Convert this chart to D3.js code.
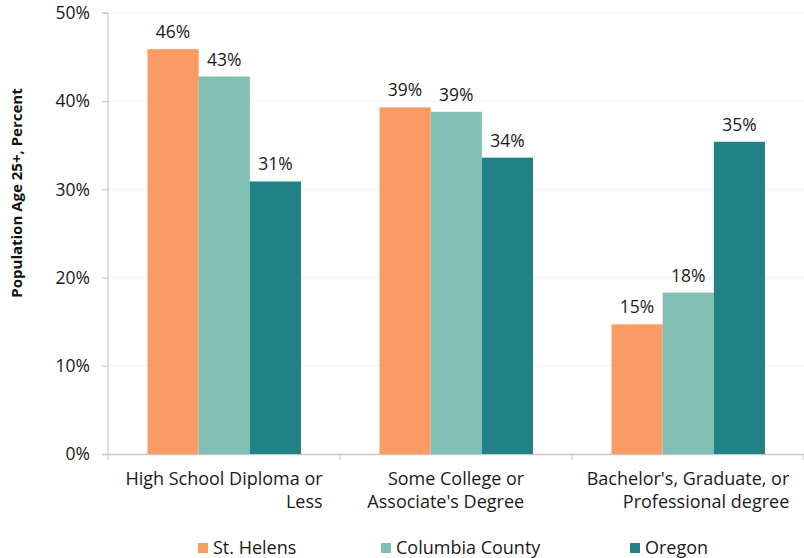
<!DOCTYPE html>
<html><head><meta charset="utf-8">
<script src="https://cdn.jsdelivr.net/npm/d3@7"></script>
<style>body{margin:0;background:#fff}svg{display:block}text{font-family:"Open Sans","Noto Sans",sans-serif}</style>
</head><body><svg id="c" width="804" height="558"></svg>
<script>
const categories = [["High School Diploma or","Less"],["Some College or","Associate's Degree"],["Bachelor's, Graduate, or","Professional degree"]];
const seriesNames = ["St. Helens","Columbia County","Oregon"];
const stHelens = [45.9, 39.3, 14.7];
const columbia = [42.8, 38.8, 18.3];
const oregon = [30.9, 33.6, 35.4];
const colors = ["#F99B62","#81BFB5","#218285"];
const yTicks = [0,10,20,30,40,50];
const series = [stHelens, columbia, oregon];

const svg = d3.select("#c");
const m = {l:108, r:804, t:13, b:454};
const x0 = d3.scaleBand().domain(d3.range(3)).range([m.l, m.r]).paddingInner(0).paddingOuter(0);
const x1 = d3.scaleBand().domain(d3.range(3)).range([39.5, x0.bandwidth()-39]);
const y = d3.scaleLinear().domain([0,50]).range([m.b, m.t]);

// gridlines
svg.append("g").selectAll("line").data(yTicks.filter(d=>d>0)).join("line")
  .attr("x1", m.l).attr("x2", m.r).attr("y1", d=>y(d)).attr("y2", d=>y(d))
  .attr("stroke","#efefef").attr("stroke-width",1);

// y axis
const ya = svg.append("g").attr("transform",`translate(${m.l},0)`)
  .call(d3.axisLeft(y).tickValues(yTicks).tickFormat(d=>d+"%").tickSize(6).tickPadding(12));
ya.select(".domain").attr("stroke","#bfbfbf").attr("d",`M-6,${m.t}H0V${m.b}`);
ya.selectAll(".tick line").attr("stroke","#bfbfbf");
ya.selectAll(".tick text").attr("font-size",17.5).attr("fill","#1a1a1a").attr("font-family","'Open Sans',sans-serif");

// x axis line and ticks
svg.append("line").attr("x1",m.l-6).attr("x2",m.r).attr("y1",m.b+0.5).attr("y2",m.b+0.5).attr("stroke","#c8c8c8").attr("stroke-width",1.5);
svg.append("g").selectAll("line").data([0,1,2,3]).join("line")
  .attr("x1", d=> d<3 ? x0(d) : m.r-1).attr("x2", d=> d<3 ? x0(d) : m.r-1)
  .attr("y1", m.b).attr("y2", m.b+6).attr("stroke","#c8c8c8");

// bars
const g = svg.append("g");
series.forEach((vals, si) => {
  g.append("g").selectAll("rect").data(vals).join("rect")
    .attr("x",(d,i)=>x0(i)+x1(si)).attr("width",x1.bandwidth())
    .attr("y",d=>y(d)).attr("height",d=>y(0)-y(d)).attr("fill",colors[si]);
  g.append("g").selectAll("text").data(vals).join("text")
    .attr("x",(d,i)=>x0(i)+x1(si)+x1.bandwidth()/2).attr("y",d=>y(d)-11)
    .attr("text-anchor","middle").attr("font-size",17.5).attr("fill","#1a1a1a")
    .text(d=>d3.format(".0f")(d)+"%");
});

// category labels (right aligned block, centered)
categories.forEach((lines, i) => {
  const cx = x0(i) + x0.bandwidth()/2;
  const t = svg.append("text").attr("font-size",18).attr("fill","#1a1a1a").attr("text-anchor","end");
  const tmp = svg.append("text").attr("font-size",18).text(lines[0]);
  const w = tmp.node().getComputedTextLength(); tmp.remove();
  lines.forEach((ln, k) => t.append("tspan").attr("x", cx + w/2).attr("y", 485 + k*23).text(ln));
});

// y title
svg.append("text").attr("transform",`translate(22,193) rotate(-90)`)
  .attr("text-anchor","middle").attr("font-size",15).style("font-weight","bold").attr("fill","#111")
  .text("Population Age 25+, Percent");

// legend
const lx = [198, 381, 630];
seriesNames.forEach((n,i)=>{
  svg.append("rect").attr("x",lx[i]).attr("y",543).attr("width",10).attr("height",10).attr("fill",colors[i]);
  svg.append("text").attr("x",lx[i]+15).attr("y",554).attr("font-size",18).attr("fill","#1a1a1a").text(n);
});
</script></body></html>
